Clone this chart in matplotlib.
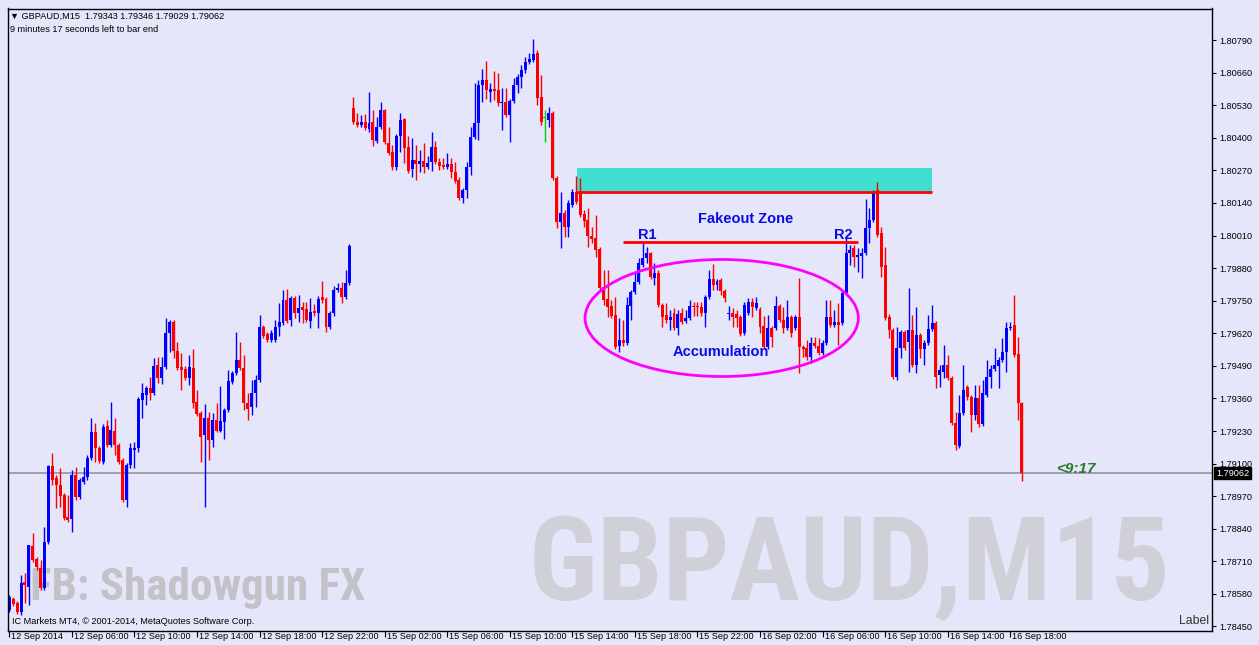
import numpy as np
import matplotlib
matplotlib.use("Agg")
import matplotlib.pyplot as plt
import matplotlib.transforms as mtransforms
from matplotlib.patches import Rectangle, Ellipse
from matplotlib import font_manager as fm

# ---------------- data (prices in points, 1 point = 0.00001) ----------------
POINT = 1e-5
opens_pts = [
    178516, 178560, 178544, 178508, 178628, 178608, 178771, 178720, 178684, 178604,
    178787, 179091, 179043, 179015, 178975, 178887, 178879, 179055, 178967, 179027,
    179047, 179123, 179226, 179162, 179107, 179250, 179174, 179230, 179174, 179115,
    178955, 179095, 179155, 179162, 179354, 179374, 179402, 179382, 179494, 179442,
    179486, 179621, 179665, 179550, 179486, 179478, 179442, 179482, 179346, 179302,
    179214, 179282, 179194, 179274, 179230, 179266, 179314, 179426, 179462, 179514,
    179482, 179342, 179326, 179382, 179434, 179645, 179617, 179593, 179593, 179645,
    179661, 179753, 179673, 179761, 179701, 179725, 179717, 179669, 179709, 179701,
    179765, 179757, 179645, 179701, 179793, 179801, 179765, 179821, 180519, 180463,
    180451, 180463, 180435, 180463, 180387, 180443, 180511, 180379, 180344, 180284,
    180407, 180475, 180363, 180276, 180312, 180296, 180308, 180284, 180304, 180363,
    180304, 180292, 180284, 180296, 180264, 180232, 180160, 180192, 180284, 180403,
    180459, 180611, 180631, 180583, 180595, 180591, 180539, 180543, 180491, 180547,
    180611, 180643, 180671, 180703, 180711, 180739, 180563, 180479, 180471, 180499,
    180240, 180064, 180100, 180044, 180132, 180184, 180180, 180096, 180072, 180008,
    180000, 179957, 179805, 179757, 179729, 179693, 179569, 179593, 179581, 179729,
    179785, 179825, 179893, 179921, 179941, 179841, 179861, 179733, 179693, 179673,
    179701, 179641, 179701, 179669, 179681, 179729, 179729, 179725, 179701, 179765,
    179837, 179813, 179833, 179789, 179697, 179701, 179697, 179685, 179621, 179701,
    179745, 179721, 179717, 179649, 179565, 179641, 179641, 179729, 179673, 179641,
    179685, 179641, 179685, 179565, 179561, 179526, 179581, 179569, 179542, 179581,
    179685, 179653, 179665, 179661, 179781, 179941, 179960, 179925, 179929, 179941,
    180040, 180072, 180192, 180020, 179893, 179685, 179633, 179446, 179561, 179625,
    179585, 179633, 179494, 179613, 179557, 179581, 179637, 179661, 179454, 179466,
    179494, 179442, 179262, 179170, 179302, 179406, 179366, 179294, 179362, 179258,
    179374, 179446, 179478, 179490, 179514, 179546, 179641, 179653, 179538, 179343,
]
closes_pts = [
    178568, 178540, 178508, 178624, 178616, 178775, 178716, 178688, 178604, 178787,
    179091, 179035, 179015, 178971, 178883, 178875, 179055, 178967, 179035, 179047,
    179123, 179226, 179162, 179111, 179246, 179174, 179234, 179174, 179107, 178955,
    179095, 179162, 179162, 179358, 179382, 179402, 179382, 179490, 179442, 179486,
    179621, 179665, 179550, 179482, 179474, 179442, 179486, 179342, 179298, 179206,
    179282, 179194, 179274, 179230, 179270, 179314, 179430, 179462, 179514, 179482,
    179342, 179318, 179382, 179434, 179645, 179609, 179593, 179621, 179645, 179665,
    179753, 179669, 179761, 179701, 179721, 179713, 179673, 179705, 179701, 179757,
    179753, 179645, 179701, 179793, 179801, 179765, 179821, 179968, 180463, 180451,
    180463, 180439, 180459, 180391, 180443, 180511, 180383, 180340, 180284, 180407,
    180471, 180359, 180268, 180312, 180296, 180308, 180284, 180300, 180363, 180304,
    180288, 180284, 180296, 180264, 180228, 180160, 180192, 180284, 180403, 180459,
    180611, 180631, 180591, 180595, 180587, 180539, 180543, 180491, 180547, 180611,
    180643, 180671, 180703, 180715, 180735, 180559, 180463, 180479, 180499, 180240,
    180064, 180100, 180044, 180140, 180184, 180144, 180092, 180068, 180008, 179996,
    179953, 179801, 179753, 179725, 179689, 179565, 179593, 179581, 179733, 179785,
    179825, 179901, 179921, 179941, 179845, 179861, 179733, 179685, 179673, 179685,
    179641, 179697, 179665, 179681, 179729, 179725, 179725, 179701, 179765, 179837,
    179813, 179829, 179789, 179761, 179701, 179685, 179681, 179617, 179733, 179745,
    179725, 179741, 179645, 179565, 179641, 179605, 179729, 179673, 179641, 179685,
    179621, 179685, 179565, 179557, 179526, 179581, 179569, 179542, 179581, 179685,
    179653, 179665, 179653, 179781, 179941, 179953, 179925, 179933, 179941, 180040,
    180072, 180184, 180012, 179885, 179681, 179633, 179446, 179561, 179625, 179561,
    179633, 179494, 179613, 179557, 179581, 179637, 179661, 179446, 179474, 179494,
    179442, 179262, 179174, 179302, 179394, 179366, 179294, 179362, 179258, 179382,
    179446, 179478, 179494, 179514, 179546, 179641, 179645, 179534, 179343, 179062,
]
highs_pts = [
    178576, 178568, 178552, 178656, 178664, 178775, 178823, 178728, 178716, 178847,
    179095, 179143, 179055, 179083, 178983, 178975, 179075, 179087, 179043, 179087,
    179135, 179282, 179262, 179170, 179258, 179274, 179346, 179282, 179182, 179123,
    179103, 179182, 179186, 179366, 179422, 179410, 179446, 179522, 179526, 179526,
    179681, 179673, 179673, 179585, 179542, 179490, 179534, 179557, 179394, 179310,
    179338, 179306, 179302, 179342, 179410, 179322, 179474, 179470, 179625, 179585,
    179534, 179382, 179434, 179454, 179693, 179653, 179625, 179633, 179673, 179741,
    179793, 179797, 179769, 179769, 179773, 179745, 179745, 179761, 179737, 179769,
    179829, 179765, 179709, 179809, 179821, 179825, 179873, 179976, 180563, 180499,
    180491, 180495, 180583, 180511, 180483, 180543, 180515, 180443, 180371, 180415,
    180499, 180479, 180407, 180399, 180371, 180352, 180379, 180328, 180423, 180387,
    180320, 180320, 180340, 180320, 180304, 180244, 180200, 180304, 180443, 180619,
    180631, 180675, 180707, 180619, 180667, 180659, 180599, 180599, 180555, 180639,
    180655, 180691, 180723, 180739, 180794, 180751, 180651, 180511, 180523, 180507,
    180248, 180184, 180112, 180152, 180196, 180248, 180240, 180112, 180120, 180044,
    180092, 179965, 179873, 179873, 179753, 179765, 179681, 179673, 179765, 179793,
    179861, 179921, 179984, 179964, 179945, 179901, 179873, 179741, 179741, 179713,
    179721, 179713, 179721, 179713, 179753, 179745, 179745, 179745, 179773, 179873,
    179897, 179837, 179841, 179797, 179729, 179721, 179713, 179693, 179745, 179761,
    179761, 179765, 179725, 179689, 179693, 179649, 179769, 179737, 179725, 179753,
    179693, 179693, 179841, 179573, 179593, 179605, 179605, 179601, 179593, 179753,
    179753, 179713, 179741, 179789, 180000, 179972, 179972, 179960, 179960, 180156,
    180120, 180192, 180224, 180044, 179964, 179697, 179641, 179645, 179633, 179633,
    179801, 179693, 179725, 179621, 179593, 179693, 179733, 179669, 179494, 179573,
    179534, 179450, 179306, 179374, 179494, 179414, 179374, 179414, 179414, 179434,
    179514, 179494, 179561, 179526, 179601, 179665, 179665, 179773, 179605, 179346,
]
lows_pts = [
    178508, 178532, 178500, 178496, 178544, 178536, 178708, 178676, 178596, 178596,
    178779, 179015, 178923, 178927, 178875, 178867, 178827, 178955, 178959, 179019,
    179035, 179115, 179107, 179103, 179099, 179166, 179166, 179135, 179099, 178947,
    178927, 179083, 179083, 179147, 179282, 179334, 179354, 179374, 179422, 179418,
    179478, 179546, 179522, 179474, 179394, 179434, 179414, 179322, 179290, 179107,
    178927, 179115, 179166, 179226, 179226, 179198, 179306, 179418, 179454, 179474,
    179314, 179274, 179294, 179326, 179426, 179601, 179585, 179585, 179585, 179609,
    179653, 179661, 179649, 179681, 179665, 179661, 179665, 179641, 179689, 179641,
    179741, 179625, 179637, 179689, 179785, 179741, 179757, 179813, 180455, 180443,
    180443, 180431, 180423, 180367, 180379, 180435, 180375, 180332, 180272, 180272,
    180344, 180300, 180260, 180244, 180232, 180264, 180260, 180276, 180268, 180296,
    180272, 180276, 180276, 180240, 180220, 180152, 180140, 180160, 180252, 180395,
    180391, 180543, 180555, 180543, 180551, 180527, 180431, 180483, 180383, 180539,
    180579, 180599, 180659, 180695, 180703, 180531, 180451, 180383, 180443, 180232,
    180040, 179960, 180004, 180004, 180124, 180136, 180084, 180044, 179964, 179980,
    179925, 179793, 179733, 179685, 179681, 179557, 179546, 179569, 179573, 179673,
    179777, 179817, 179885, 179901, 179837, 179813, 179725, 179645, 179661, 179633,
    179633, 179613, 179657, 179661, 179673, 179689, 179689, 179689, 179645, 179757,
    179793, 179793, 179773, 179745, 179673, 179645, 179645, 179609, 179613, 179693,
    179685, 179713, 179621, 179557, 179557, 179565, 179633, 179665, 179621, 179633,
    179605, 179633, 179462, 179526, 179514, 179502, 179561, 179534, 179534, 179573,
    179645, 179645, 179573, 179653, 179773, 179893, 179885, 179865, 179841, 179933,
    179980, 180064, 180004, 179845, 179673, 179601, 179438, 179434, 179522, 179554,
    179466, 179486, 179462, 179522, 179494, 179573, 179629, 179402, 179406, 179442,
    179434, 179254, 179155, 179162, 179294, 179354, 179226, 179274, 179246, 179250,
    179366, 179402, 179470, 179402, 179506, 179466, 179633, 179526, 179274, 179029,
]

symbol = "GBPAUD,M15"
header_ohlc = "1.79343 1.79346 1.79029 1.79062"
timer_text = "9 minutes 17 seconds left to bar end"
countdown = "<9:17"
bid_price = 1.79062
time_labels = ["12 Sep 2014", "12 Sep 06:00", "12 Sep 10:00", "12 Sep 14:00",
               "12 Sep 18:00", "12 Sep 22:00", "15 Sep 02:00", "15 Sep 06:00",
               "15 Sep 10:00", "15 Sep 14:00", "15 Sep 18:00", "15 Sep 22:00",
               "16 Sep 02:00", "16 Sep 06:00", "16 Sep 10:00", "16 Sep 14:00",
               "16 Sep 18:00"]
bars_per_label = 16
price_ticks = [1.80790, 1.80660, 1.80530, 1.80400, 1.80270, 1.80140, 1.80010,
               1.79880, 1.79750, 1.79620, 1.79490, 1.79360, 1.79230, 1.79100,
               1.78970, 1.78840, 1.78710, 1.78580, 1.78450]
zone_top, zone_bottom = 1.80280, 1.80182
zone_bars = (145.2, 236.0)
resistance = 1.79984
resistance_bars = (156.9, 217.1)
accum_center = (182.2, 1.79681)
accum_size = (69.9, 0.00467)

# ---------------- figure ----------------
W, H = 1259, 645
BG = "#E6E6FA"
fig = plt.figure(figsize=(W / 100, H / 100), dpi=100)
fig.patch.set_facecolor(BG)
ax = fig.add_axes([8 / W, 1 - 631 / H, 1204 / W, 622.5 / H])
ax.set_facecolor(BG)

o = np.array(opens_pts) * POINT
c = np.array(closes_pts) * POINT
hi = np.array(highs_pts) * POINT
lo = np.array(lows_pts) * POINT
x = np.arange(len(o))

up = c > o
dn = c < o
cols = np.where(up, "#0000FF", np.where(dn, "#FF0000", "#00CC00"))

ax.vlines(x, lo, hi, colors=cols, linewidth=1.0, zorder=2)
body_h = np.maximum(np.abs(c - o), 0.000035)
ax.bar(x, body_h, bottom=np.minimum(o, c), width=0.76, color=cols,
       linewidth=0, zorder=2.1)

# current bid line
ax.axhline(bid_price, color="#8C8C9C", linewidth=1.1, zorder=1.5)

# fakeout zone rectangle + red lines
ax.add_patch(Rectangle((zone_bars[0], zone_bottom), zone_bars[1] - zone_bars[0],
                       zone_top - zone_bottom, facecolor="#40E0D0",
                       edgecolor="none", zorder=1))
ax.hlines(zone_bottom, zone_bars[0], zone_bars[1], colors="#FF0000",
          linewidth=2.0, zorder=3)
ax.hlines(resistance, resistance_bars[0], resistance_bars[1], colors="#FF0000",
          linewidth=2.0, zorder=3)
ax.add_patch(Ellipse(accum_center, accum_size[0], accum_size[1], fill=False,
                     edgecolor="#FF00FF", linewidth=2.0, zorder=3))

lab_kw = dict(color="#0A0AE8", fontsize=10.5, fontweight="bold",
              family=["Liberation Sans", "DejaVu Sans"], ha="center",
              va="center", zorder=4)
ax.text(188.2, 1.80076, "Fakeout Zone", **lab_kw)
ax.text(163.1, 1.80012, "R1", **lab_kw)
ax.text(213.2, 1.80012, "R2", **lab_kw)
ax.text(182.0, 1.79546, "Accumulation", **lab_kw)
ax.text(272.8, 1.79079, countdown, color="#2A7A2A", fontsize=11,
        fontweight="bold", style="italic",
        family=["Liberation Sans", "DejaVu Sans"], ha="center", va="center",
        zorder=4)

# axes limits and ticks
ax.set_xlim(-0.33, 307.6)
ax.set_ylim(1.78432, 1.80916)
for s in ax.spines.values():
    s.set_color("black")
    s.set_linewidth(1.0)

ax.yaxis.tick_right()
ax.set_yticks(price_ticks)
ax.set_yticklabels([f"{p:.5f}" for p in price_ticks])
ax.tick_params(axis="y", which="both", direction="out", length=3, width=0.8,
               pad=2, labelsize=6.6, colors="black")
xt = [k * bars_per_label for k in range(len(time_labels))]
ax.set_xticks(xt)
ax.set_xticklabels(time_labels)
ax.tick_params(axis="x", direction="out", length=4, width=0.8, pad=-3,
               labelsize=6.6, colors="black")
for t in ax.get_xticklabels() + ax.get_yticklabels():
    t.set_family(["Liberation Sans", "DejaVu Sans"])
for t in ax.get_xticklabels():
    t.set_horizontalalignment("left")
    t.set_x(t.get_position()[0])

# shift x labels slightly right of their tick marks
offset = mtransforms.ScaledTranslation(2 / 100, 0, fig.dpi_scale_trans)
for t in ax.get_xticklabels():
    t.set_transform(t.get_transform() + offset)

# price box on the right axis
blend = mtransforms.blended_transform_factory(ax.transAxes, ax.transData)
ax.text(1.0035, bid_price, f"{bid_price:.5f}", transform=blend, ha="left",
        va="center", color="white", fontsize=6.6,
        family=["Liberation Sans", "DejaVu Sans"], zorder=6, clip_on=False,
        bbox=dict(boxstyle="square,pad=0.2", facecolor="black",
                  edgecolor="black"))

# watermarks
names = {f.name for f in fm.fontManager.ttflist}
wm_family = "Liberation Sans"
for n in ["Liberation Sans Narrow", "Arial Narrow", "Roboto Condensed",
          "Open Sans Condensed", "DejaVu Sans Condensed"]:
    if n in names:
        wm_family = n
        break

renderer = fig.canvas.get_renderer()


def fit_width(t, target_px):
    bb = t.get_window_extent(renderer)
    if bb.width > 0:
        t.set_fontsize(t.get_fontsize() * target_px / bb.width)


wm1 = ax.text((528 - 8) / 1204, (631 - 600) / 622.5, symbol,
              transform=ax.transAxes, color="#D0D0D8", fontsize=80,
              fontweight="bold", family=wm_family, ha="left", va="baseline",
              zorder=0.5)
fit_width(wm1, 642)
wm2 = ax.text((30 - 8) / 1204, (631 - 600) / 622.5, "FB: Shadowgun FX",
              transform=ax.transAxes, color="#C2C2C8", fontsize=30,
              fontweight="bold", family=wm_family, ha="left", va="baseline",
              zorder=0.5)
fit_width(wm2, 335)

# header / footer texts
small = dict(fontsize=6.6, family=["Liberation Sans", "DejaVu Sans"],
             color="black", va="center", ha="left")
fig.text(10 / W, 1 - 16 / H, "\u25BC " + symbol + "  " + header_ohlc, **small)
fig.text(10 / W, 1 - 29 / H, timer_text, **small)
fig.text(12 / W, 1 - 621 / H,
         "IC Markets MT4, \u00A9 2001-2014, MetaQuotes Software Corp.", **small)
fig.text(1179 / W, 1 - 621 / H, "Label", fontsize=8.8,
         family=["Liberation Sans", "DejaVu Sans"], color="#333333",
         va="center", ha="left")

fig.savefig("out.png", dpi=100, facecolor=fig.get_facecolor())
